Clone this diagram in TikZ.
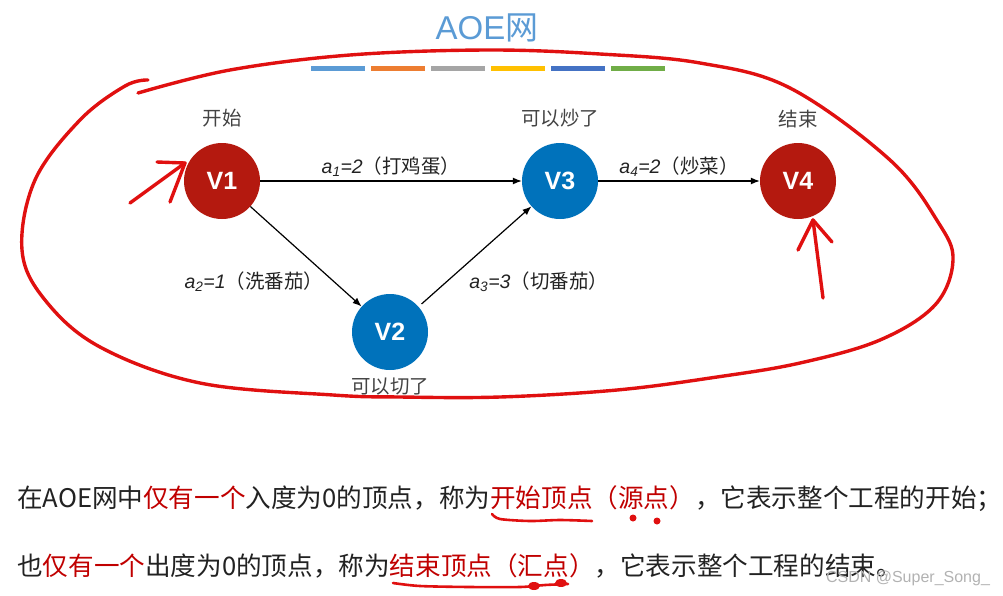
\documentclass[tikz,border=0pt]{standalone}
\usepackage{fontspec}
\setmainfont{Noto Sans CJK SC}
\newfontfamily\latinsf{Liberation Sans}
\newfontfamily\cjkmed{Noto Sans CJK SC Medium}
\usepackage{xcolor}
\usepackage{tikz}
\usetikzlibrary{arrows.meta,positioning}

\definecolor{vred}{HTML}{B4190F}
\definecolor{vblue}{HTML}{0072BB}
\definecolor{ttl}{HTML}{5B9BD5}
\definecolor{hl}{HTML}{C00000}
\definecolor{ink}{HTML}{E01010}
\definecolor{txt}{HTML}{222222}
\definecolor{bar1}{HTML}{5B9BD5}
\definecolor{bar2}{HTML}{ED7D31}
\definecolor{bar3}{HTML}{A5A5A5}
\definecolor{bar4}{HTML}{FFC000}
\definecolor{bar5}{HTML}{4472C4}
\definecolor{bar6}{HTML}{70AD47}

\begin{document}
\begin{tikzpicture}[x=1pt,y=-1pt,
  vtx/.style={circle,fill=#1,minimum size=76pt,inner sep=0pt,text=white,font=\latinsf\bfseries\fontsize{25}{25}\selectfont},
  vtx/.default=vblue,
  tag/.style={inner sep=0pt,text=txt!85,font=\fontsize{19.5}{19.5}\selectfont},
  elbl/.style={inner sep=0pt,text=txt,font=\fontsize{19.5}{19.5}\selectfont},
  arr/.style={-{Latex[length=9pt,width=7pt]},line width=1.2pt},
  hand/.style={draw=ink,line width=3.4pt,line cap=round,line join=round},
  bar/.style={fill=#1,draw=none}]
  \useasboundingbox (0,0) rectangle (1003,595);
  % title and colour strip
  \node[text=ttl,font=\fontsize{33}{33}\selectfont] (title) at (487,28) {{\latinsf AOE}网};
  \foreach \c [count=\i] in {bar1,bar2,bar3,bar4,bar5,bar6}
    \fill[bar=\c] (251+60*\i,66) rectangle ++(54,5);
  % vertices
  \node[vtx=vred] (v1) at (222,181) {V1};
  \node[vtx] (v2) at (390,332) {V2};
  \node[vtx] (v3) at (560,181) {V3};
  \node[vtx=vred] (v4) at (798,181) {V4};
  \node[tag,above=15pt of v1] (t1) {开始};
  \node[tag,above=15pt of v3] (t3) {可以炒了};
  \node[tag,above=15pt of v4] (t4) {结束};
  \node[tag,below=7pt of v2] (t2) {可以切了};
  % activities
  \draw[arr] (v1) -- node[elbl,above=4pt] {{\latinsf\itshape a\textsubscript{1}=2}（打鸡蛋）} (v3);
  \draw[arr] (v3) -- node[elbl,above=4pt] {{\latinsf\itshape a\textsubscript{4}=2}（炒菜）} (v4);
  \draw[arr] (v1) -- node[elbl,pos=0.75,left=10pt] {{\latinsf\itshape a\textsubscript{2}=1}（洗番茄）} (v2);
  \draw[arr,shorten <=4pt] (v2) -- node[elbl,pos=0.25,right=22pt] {{\latinsf\itshape a\textsubscript{3}=3}（切番茄）} (v3);
  % explanation
  \node[anchor=base west,inner sep=0pt,text=txt,font=\fontsize{25.6}{25.6}\selectfont] (line1) at (17,507)
    {在AOE网中\textcolor{hl}{仅有一个}入度为0的顶点，称为\textcolor{hl}{开始顶点（源点）}，它表示整个工程的开始；};
  \node[anchor=base west,inner sep=0pt,text=txt,font=\fontsize{25.6}{25.6}\selectfont] (line2) at (17,575)
    {也\textcolor{hl}{仅有一个}出度为0的顶点，称为\textcolor{hl}{结束顶点（汇点）}，它表示整个工程的结束。};
  \node[text=black!30,font=\latinsf\fontsize{16}{16}\selectfont] (mark) at (908,578) {CSDN @Super\_Song\_};
  % hand-drawn marks
  \draw[hand] plot[smooth,tension=0.6] coordinates {(138,93) (230,70) (350,55) (487,50) (600,54)
    (700,63) (790,88) (890,160) (938,222) (953,260) (935,305) (880,340) (800,363) (717,377)
    (617,390) (500,397) (400,397) (333,395) (200,383) (100,347) (45,300) (22,250) (35,180)
    (80,120) (125,86) (148,80)};
  \draw[hand] (130,203) -- (185,163);
  \draw[hand] (157,162) -- (185,163) -- (170,202);
  \draw[hand] (823,298) -- (813,220);
  \draw[hand] (798,250) -- (813,220) -- (832,242);
  \draw[hand,line width=2.6pt] plot[smooth] coordinates {(492,514) (500,519) (530,521) (560,520) (592,521)};
  \fill[ink] (633,518) circle (3.5) (657,521) circle (3.5);
  \draw[hand,line width=2.6pt] plot[smooth] coordinates {(393,583) (420,586) (470,587) (520,587) (545,585) (568,584)};
  \fill[ink] (534,586) ellipse (6 and 4) (561,583) ellipse (6 and 4);
\end{tikzpicture}
\end{document}
